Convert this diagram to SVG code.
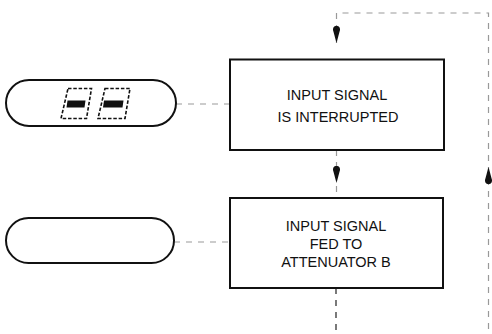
<svg xmlns="http://www.w3.org/2000/svg" width="492" height="334" viewBox="0 0 492 334">
<style>
.box{fill:#fff;stroke:#111;stroke-width:2}
.term{fill:#fff;stroke:#111;stroke-width:2}
.dash{fill:none;stroke:#999;stroke-width:1.2;stroke-dasharray:6 6}
.dashd{fill:none;stroke:#222;stroke-width:1.2;stroke-dasharray:6 6}
.seg{fill:none;stroke:#111;stroke-width:1.6;stroke-dasharray:3.5 1.8}
.txt{font-family:"Liberation Sans",Arial,sans-serif;font-size:14.5px;fill:#111;text-anchor:middle}
.head{fill:#111}
</style>
<g id="connectors">
<path class="dash" d="M176 104 H230"/>
<path class="dash" d="M174 242 H230"/>
<path class="dash" d="M336.5 43 V13 H488.5 V334"/>
<path class="dash" d="M336.5 150 V198"/>
<path class="dashd" d="M336 288 V334"/>
<path class="head" d="M336.5 26 C339.5 26 340 28 340 30 L336.5 43 L333 30 C333 28 333.5 26 336.5 26 Z"/>
<path class="head" d="M336.5 166 C339.5 166 340 168 340 170 L336.5 183 L333 170 C333 168 333.5 166 336.5 166 Z"/>
<path class="head" d="M488.5 184 C491.5 184 492 182 492 180 L488.5 167 L485 180 C485 182 485.5 184 488.5 184 Z"/>
</g>
<g id="display1">
<rect class="term" x="6" y="80" width="170" height="46" rx="23" ry="23"/>
<polygon class="seg" points="68,88.5 91.5,88.5 86.5,118.5 61,118.5"/>
<polygon class="head" points="67.5,100.5 85.5,100.5 84.5,107.5 66.5,107.5"/>
<polygon class="seg" points="105,88.5 130,88.5 125,118.5 98,118.5"/>
<polygon class="head" points="104,100.5 123.5,100.5 122.5,107.5 103,107.5"/>
</g>
<g id="display2">
<rect class="term" x="6" y="218" width="168" height="45" rx="22.5" ry="22.5"/>
</g>
<g id="step1">
<rect class="box" x="230" y="59.5" width="214" height="90.5"/>
<text class="txt" x="337" y="100">INPUT SIGNAL</text>
<text class="txt" x="338" y="122">IS INTERRUPTED</text>
</g>
<g id="step2">
<rect class="box" x="230" y="198" width="213" height="90"/>
<text class="txt" x="336" y="231">INPUT SIGNAL</text>
<text class="txt" x="336" y="248.5">FED TO</text>
<text class="txt" x="336" y="266.5">ATTENUATOR B</text>
</g>
</svg>
